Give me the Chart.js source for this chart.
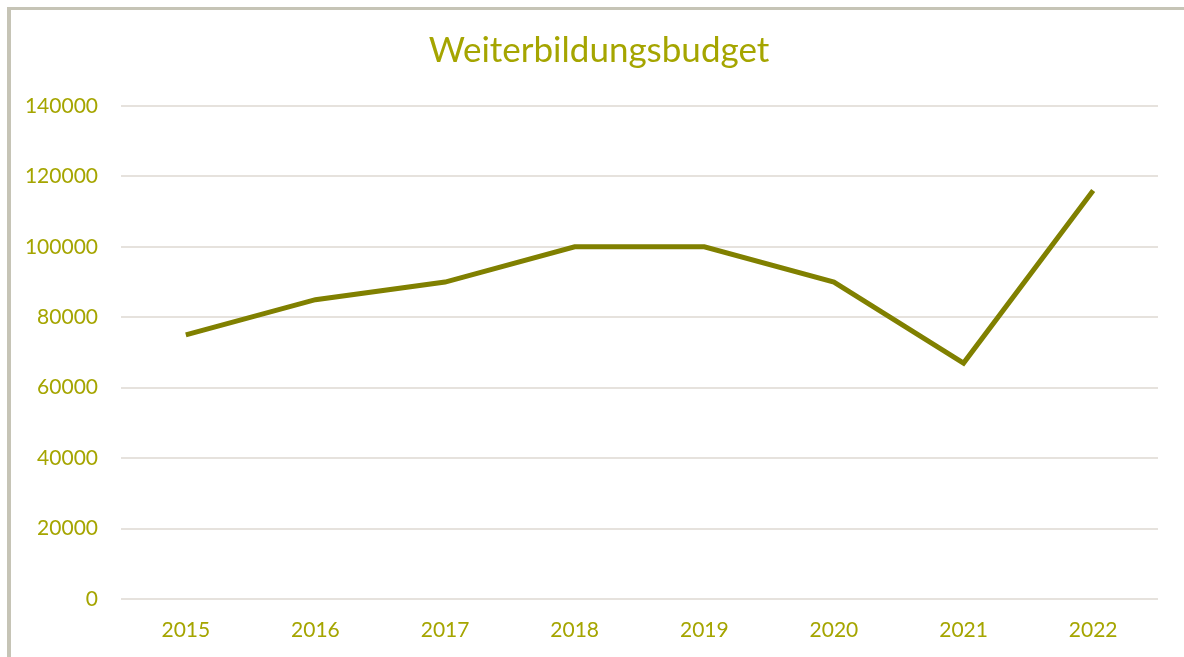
<!DOCTYPE html>
<html>
<head>
<meta charset="utf-8">
<script src="https://cdn.jsdelivr.net/npm/chart.js@4/dist/chart.umd.min.js"></script>
<style>
  html, body { margin: 0; padding: 0; background: #fff; }
  #frame {
    position: absolute; left: 7px; top: 7px; width: 1177px; height: 650px;
    border-left: 4px solid #c6c4b6; border-top: 3px solid #c6c4b6;
    box-sizing: border-box;
  }
  #wrap { position: absolute; left: 0; top: 0; width: 1184px; height: 657px; }
</style>
</head>
<body>
<div id="frame"></div>
<div id="wrap"><canvas id="chart" width="1184" height="657"></canvas></div>
<script>
// data
const years = ["2015", "2016", "2017", "2018", "2019", "2020", "2021", "2022"];
const budget = [75000, 85000, 90000, 100000, 100000, 90000, 67000, 116000];

const textColor = "#a5a500";
const lineColor = "#808000";
const gridColor = "#e6e2dd";
const font = "Lato, 'Open Sans', sans-serif";

// title sits a bit right of the canvas centre, like in the original
const shiftTitle = {
  id: "shiftTitle",
  afterLayout(chart) {
    if (chart.titleBlock) chart.titleBlock.left = 40;
  },
};

new Chart(document.getElementById("chart"), {
  type: "line",
  data: {
    labels: years,
    datasets: [{
      label: "Weiterbildungsbudget",
      data: budget,
      borderColor: lineColor,
      borderWidth: 5,
      pointRadius: 0,
      tension: 0,
      fill: false,
    }],
  },
  options: {
    responsive: false,
    animation: false,
    layout: { padding: { left: 0, right: 26, top: 0, bottom: 0 } },
    plugins: {
      legend: { display: false },
      tooltip: { enabled: false },
      title: {
        display: true,
        text: "Weiterbildungsbudget",
        color: textColor,
        font: { family: font, size: 35, weight: "normal" },
        padding: { top: 30, bottom: 34 },
      },
    },
    scales: {
      x: {
        offset: true,
        grid: { display: false, drawTicks: false },
        border: { display: false },
        ticks: { color: textColor, font: { family: font, size: 21 }, padding: 19, maxRotation: 0 },
        afterFit: (scale) => { scale.height = 58; },
      },
      y: {
        min: 0,
        max: 140000,
        ticks: {
          stepSize: 20000,
          color: textColor,
          font: { family: font, size: 21 },
          padding: 23,
          callback: (v) => String(v),
        },
        grid: { color: gridColor, lineWidth: 2, drawTicks: false },
        border: { display: false },
        afterFit: (scale) => { scale.width = 121; },
      },
    },
  },
  plugins: [shiftTitle],
});
</script>
</body>
</html>
